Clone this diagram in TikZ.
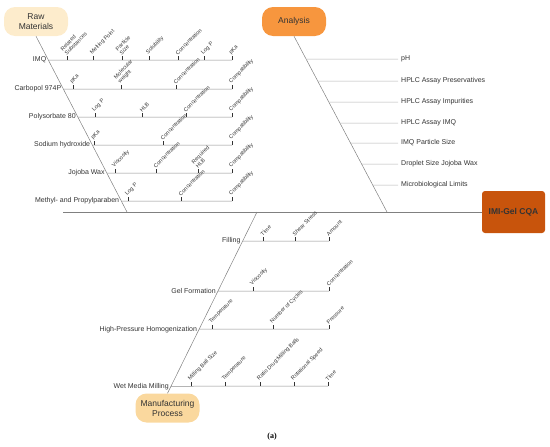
\documentclass[tikz,border=0pt]{standalone}
\usepackage{fontspec}
\setmainfont{Liberation Sans}
\newfontfamily\capfont{Liberation Serif}
\usetikzlibrary{calc}

\definecolor{rawfill}{RGB}{253,236,204}
\definecolor{anafill}{RGB}{247,150,62}
\definecolor{cqafill}{RGB}{200,84,12}
\definecolor{manfill}{RGB}{250,216,158}
\definecolor{bonegray}{RGB}{128,128,128}

\tikzset{
  catbox/.style={rounded corners=11pt,minimum width=64pt,minimum height=29pt,
    inner sep=0pt,align=center,font=\fontsize{8.5}{10}\selectfont,text=black!80},
  bone/.style={draw=bonegray,line width=0.5pt},
  branch/.style={draw=black!45,line width=0.5pt},
  anabranch/.style={draw=black!30,line width=0.5pt},
  tick/.style={draw=black!80,line width=0.6pt},
  cause/.style={font=\fontsize{7}{8}\selectfont,text=black!80,inner sep=2pt},
  sub/.style={font=\fontsize{5.5}{5.8}\selectfont,text=black!80,rotate=45,
    anchor=south west,inner sep=0.3pt,align=left},
}

\begin{document}
\begin{tikzpicture}[x=1pt,y=-1pt]
  \useasboundingbox (0,0) rectangle (550,447);

  % ================= Kategorien =================
  \node[catbox,fill=rawfill] (rawmat) at (36,21.5) {Raw\\Materials};
  \node[catbox,fill=anafill] (analysis) at (294,21.5) {Analysis};
  \node[catbox,fill=manfill] (manuf) at (167.5,408) {Manufacturing\\Process};
  \node[catbox,fill=cqafill,rounded corners=3pt,minimum width=63pt,minimum height=42pt,
    font=\fontsize{8.5}{10}\selectfont\bfseries] (cqa) at (513.5,212) {IMI-Gel CQA};

  % Hauptgraete
  \coordinate (spine0) at (63,212);
  \coordinate (rawjoin) at (127,212);
  \coordinate (anajoin) at (387,212);
  \coordinate (manjoin) at (257,212);
  \draw[bone] (spine0) -- (cqa);
  \draw[bone] (rawmat.south) -- (rawjoin);
  \draw[bone] (analysis.south) -- (anajoin);
  \draw[bone] (manuf.north) -- (manjoin);

  % ================= Raw Materials =================
  \coordinate (imqS) at ($(rawmat.south)!{(60-36)/176}!(rawjoin)$);
  \draw[branch] (imqS) -- (232,60) coordinate (imqE);
  \node[cause,anchor=east] (imq) at (imqS) {IMQ};
  \foreach \x/\t [count=\i] in {67/{Related\\Substances},93/{Melting Point},122/{Particle\\Size},
      149/Solubility,178/Concentration,204/{Log P},232/pKa}
    \draw[tick] (\x,60) -- ++(0,-4) node[sub] (imq\i) {\t};

  \coordinate (carbS) at ($(rawmat.south)!{(89-36)/176}!(rawjoin)$);
  \draw[branch] (carbS) -- (232,89) coordinate (carbE);
  \node[cause,anchor=east] (carb) at (carbS) {Carbopol 974P};
  \foreach \x/\t [count=\i] in {73/pKa,121/{Molecular\\weight},176/Concentration,232/Compatibility}
    \draw[tick] (\x,89) -- ++(0,-4) node[sub] (carb\i) {\t};

  \coordinate (polyS) at ($(rawmat.south)!{(117-36)/176}!(rawjoin)$);
  \draw[branch] (polyS) -- (232,117) coordinate (polyE);
  \node[cause,anchor=east] (poly) at (polyS) {Polysorbate 80};
  \foreach \x/\t [count=\i] in {95/{Log P},142/HLB,186/Concentration,232/Compatibility}
    \draw[tick] (\x,117) -- ++(0,-4) node[sub] (poly\i) {\t};

  \coordinate (naohS) at ($(rawmat.south)!{(145-36)/176}!(rawjoin)$);
  \draw[branch] (naohS) -- (232,145) coordinate (naohE);
  \node[cause,anchor=east] (naoh) at (naohS) {Sodium hydroxide};
  \foreach \x/\t [count=\i] in {94/pKa,163/Concentration,232/Compatibility}
    \draw[tick] (\x,145) -- ++(0,-4) node[sub] (naoh\i) {\t};

  \coordinate (jojS) at ($(rawmat.south)!{(173-36)/176}!(rawjoin)$);
  \draw[branch] (jojS) -- (232,173) coordinate (jojE);
  \node[cause,anchor=east] (joj) at (jojS) {Jojoba Wax};
  \foreach \x/\t [count=\i] in {115/Viscosity,156/Concentration,198/{Required\\HLB},232/Compatibility}
    \draw[tick] (\x,173) -- ++(0,-4) node[sub] (joj\i) {\t};

  \coordinate (parS) at ($(rawmat.south)!{(201-36)/176}!(rawjoin)$);
  \draw[branch] (parS) -- (232,201) coordinate (parE);
  \node[cause,anchor=east] (par) at (parS) {Methyl- and Propylparaben};
  \foreach \x/\t [count=\i] in {128/{Log P},181/Concentration,232/Compatibility}
    \draw[tick] (\x,201) -- ++(0,-4) node[sub] (par\i) {\t};

  % ================= Analysis =================
  \foreach \y/\t [count=\i] in {59/pH,81/HPLC Assay Preservatives,102/HPLC Assay Impurities,
      123/HPLC Assay IMQ,143/IMQ Particle Size,164/Droplet Size Jojoba Wax,185/Microbiological Limits} {
    \draw[anabranch] ($(analysis.south)!{(\y-36)/176}!(anajoin)$) -- (398,\y) coordinate (ana\i);
    \node[cause,anchor=west,xshift=1pt] (test\i) at (ana\i) {\t};
  }

  % ================= Manufacturing Process =================
  \coordinate (fillS) at ($(manuf.north)!{(393-241)/181}!(manjoin)$);
  \draw[branch] (fillS) -- (329,241) coordinate (fillE);
  \node[cause,anchor=east] (fill) at (fillS) {Filling};
  \foreach \x/\t [count=\i] in {263/Time,295/{Shear Stress},329/Amount}
    \draw[tick] (\x,241) -- ++(0,-4) node[sub] (fill\i) {\t};

  \coordinate (gelS) at ($(manuf.north)!{(393-291)/181}!(manjoin)$);
  \draw[branch] (gelS) -- (329,291) coordinate (gelE);
  \node[cause,anchor=east] (gel) at (gelS) {Gel Formation};
  \foreach \x/\t [count=\i] in {253/Viscosity,329/Concentration}
    \draw[tick] (\x,291) -- ++(0,-4) node[sub] (gel\i) {\t};

  \coordinate (hphS) at ($(manuf.north)!{(393-329)/181}!(manjoin)$);
  \draw[branch] (hphS) -- (329,329) coordinate (hphE);
  \node[cause,anchor=east] (hph) at (hphS) {High-Pressure Homogenization};
  \foreach \x/\t [count=\i] in {212/Temperature,273/{Number of Cycles},329/Pressure}
    \draw[tick] (\x,329) -- ++(0,-4) node[sub] (hph\i) {\t};

  \coordinate (wmmS) at ($(manuf.north)!{(393-386)/181}!(manjoin)$);
  \draw[branch] (wmmS) -- (328,386) coordinate (wmmE);
  \node[cause,anchor=east] (wmm) at (wmmS) {Wet Media Milling};
  \foreach \x/\t [count=\i] in {191/{Milling Ball Size},225/Temperature,260/{Ratio Drug:Milling Balls},
      294/{Rotational Speed},328/Time}
    \draw[tick] (\x,386) -- ++(0,-4) node[sub] (wmm\i) {\t};

  \node[font=\capfont\bfseries\fontsize{8}{9}\selectfont] (caption) at (272,437) {(a)};
\end{tikzpicture}
\end{document}
